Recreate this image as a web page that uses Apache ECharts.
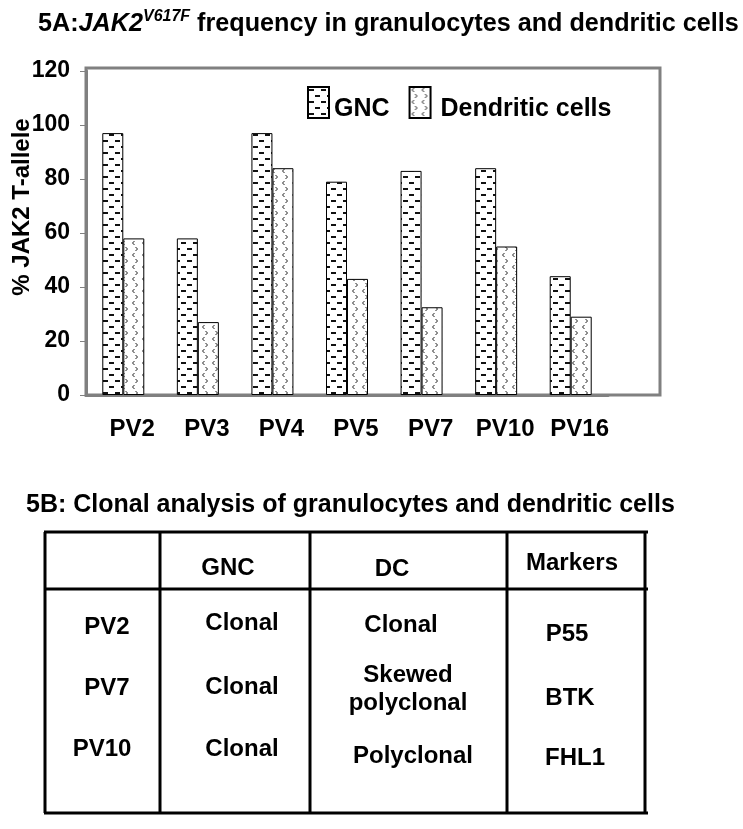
<!DOCTYPE html>
<html><head><meta charset="utf-8">
<script src="https://cdn.jsdelivr.net/npm/echarts@6/dist/echarts.min.js"></script>
<style>html,body{margin:0;padding:0;background:#fff}#c{width:743px;height:829px}</style>
</head><body><div id="c"></div>
<script>
// ---- data ----
const categories = ['PV2', 'PV3', 'PV4', 'PV5', 'PV7', 'PV10', 'PV16'];
const gncValues = [97, 58, 97, 79, 83, 84, 44];
const dcValues = [58, 27, 84, 43, 32.5, 55, 29];
const yTicks = [0, 20, 40, 60, 80, 100, 120];
const seriesNames = ['GNC', 'Dendritic cells'];
const yAxisName = '% JAK2 T-allele';
const tableTitle = '5B: Clonal analysis of granulocytes and dendritic cells';
const tableHeader = ['', 'GNC', 'DC', 'Markers'];
const tablePatients = ['PV2', 'PV7', 'PV10'];
const tableGNC = ['Clonal', 'Clonal', 'Clonal'];
const tableDC = ['Clonal', 'Skewed\npolyclonal', 'Polyclonal'];
const tableMarkers = ['P55', 'BTK', 'FHL1'];

// ---- styles ----
const FF = '"Liberation Sans", Arial, sans-serif';
const GRAY = '#808080';

function dashTile() {
  const c = document.createElement('canvas'); c.width = 12; c.height = 12;
  const g = c.getContext('2d');
  g.fillStyle = '#fff'; g.fillRect(0, 0, 12, 12);
  g.fillStyle = '#111';
  g.fillRect(1, 2, 5, 2);
  g.fillRect(7, 8, 5, 2);
  return c;
}
function chevronTile() {
  const c = document.createElement('canvas'); c.width = 10; c.height = 12;
  const g = c.getContext('2d');
  g.fillStyle = '#fff'; g.fillRect(0, 0, 10, 12);
  g.strokeStyle = '#222'; g.lineWidth = 1;
  g.beginPath(); g.moveTo(4.5, 1); g.lineTo(2.5, 3); g.lineTo(4.5, 5); g.stroke();
  g.beginPath(); g.moveTo(5.5, 7); g.lineTo(7.5, 9); g.lineTo(5.5, 11); g.stroke();
  return c;
}

// ---- table graphics ----
const colLines = [45, 160, 310, 507, 645];
const tTop = 532, tHead = 589, tBottom = 813;
const graphics = [];
[tTop, tHead, tBottom].forEach(y => graphics.push({
  type: 'line', shape: { x1: 44, y1: y, x2: 648, y2: y }, style: { stroke: '#000', lineWidth: 3 }
}));
colLines.forEach(x => graphics.push({
  type: 'line', shape: { x1: x, y1: tTop, x2: x, y2: tBottom }, style: { stroke: '#000', lineWidth: 3 }
}));
const headerX = [0, 228, 392, 572], headerY = [0, 568, 569, 563];
tableHeader.forEach((t, i) => { if (t) graphics.push(txt(t, headerX[i], headerY[i])); });
const columns = [tablePatients, tableGNC, tableDC, tableMarkers];
const colX = [[107, 107, 102], [242, 242, 242], [401, 408, 413], [567, 570, 575]];
const colY = [[627, 688, 749], [623, 687, 749], [625, 689, 756], [634, 698, 758]];
columns.forEach((col, ci) => col.forEach((t, ri) => graphics.push(txt(t, colX[ci][ri], colY[ci][ri]))));
function txt(t, x, y) {
  return { type: 'text', x: x, y: y, style: {
    text: t, fill: '#000', font: 'bold 24px ' + FF, align: 'center', verticalAlign: 'middle', lineHeight: 28 } };
}

const chart = echarts.init(document.getElementById('c'), null, { renderer: 'canvas' });
const option = {
  animation: false,
  backgroundColor: '#fff',
  title: [
    { left: 33, top: 4,
      text: '{a|5A:}{i|JAK2}{s|V617F}{a| frequency in granulocytes and dendritic cells}',
      textStyle: { rich: {
        a: { fontSize: 25.2, fontWeight: 'bold', color: '#000', fontFamily: FF, lineHeight: 30 },
        i: { fontSize: 25.2, fontWeight: 'bold', fontStyle: 'italic', color: '#000', fontFamily: FF, lineHeight: 30 },
        s: { fontSize: 16, fontWeight: 'bold', fontStyle: 'italic', color: '#000', fontFamily: FF, lineHeight: 18, verticalAlign: 'top' }
      } } },
    { left: 21, top: 488, text: tableTitle,
      textStyle: { fontSize: 25, fontWeight: 'bold', color: '#000', fontFamily: FF } }
  ],
  legend: {
    left: 302, top: 81, itemWidth: 21, itemHeight: 31, itemGap: 19, icon: 'rect',
    data: seriesNames,
    formatter: n => (n === seriesNames[1] ? '{d|' : '{t|') + n + '}',
    textStyle: { fontSize: 25, fontWeight: 'bold', color: '#000', fontFamily: FF,
      rich: {
        t: { fontSize: 25, fontWeight: 'bold', color: '#000', fontFamily: FF, padding: [14, 0, 0, 0] },
        d: { fontSize: 25, fontWeight: 'bold', color: '#000', fontFamily: FF, padding: [14, 0, 0, 5] }
      } }
  },
  grid: [
    { left: 86, top: 71, width: 522, height: 324, containLabel: false, outerBoundsMode: 'none' },
    { left: 86, top: 68, width: 574, height: 327, show: true, borderColor: GRAY, borderWidth: 3, backgroundColor: 'transparent', outerBoundsMode: 'none' }
  ],
  xAxis: [
    { type: 'category', data: categories, gridIndex: 0,
      axisLine: { lineStyle: { color: GRAY, width: 3 } },
      axisTick: { length: 6, lineStyle: { color: GRAY, width: 1 } },
      axisLabel: { interval: 0, fontSize: 24, fontWeight: 'bold', color: '#000', fontFamily: FF, margin: 22, padding: [0, 0, 0, 18] } },
    { type: 'value', gridIndex: 1, show: false }
  ],
  yAxis: [
    { type: 'value', gridIndex: 0, min: yTicks[0], max: yTicks[yTicks.length - 1], interval: yTicks[1] - yTicks[0],
      splitLine: { show: false },
      axisLine: { show: true, lineStyle: { color: GRAY, width: 3 } },
      axisTick: { show: true, length: 6, lineStyle: { color: GRAY, width: 1 } },
      axisLabel: { fontSize: 23, fontWeight: 'bold', color: '#000', fontFamily: FF, margin: 16 },
      name: yAxisName, nameLocation: 'middle', nameGap: 52, nameMoveOverlap: false,
      nameTextStyle: { fontSize: 24, fontWeight: 'bold', color: '#000', fontFamily: FF, padding: [0, 0, 0, 52] } },
    { type: 'value', gridIndex: 1, show: false }
  ],
  series: [
    { type: 'bar', name: seriesNames[0], data: gncValues, xAxisIndex: 0, yAxisIndex: 0,
      barWidth: 21, barGap: '0%',
      itemStyle: { color: { image: dashTile(), repeat: 'repeat' }, borderColor: '#000', borderWidth: 1 } },
    { type: 'bar', name: seriesNames[1], data: dcValues, xAxisIndex: 0, yAxisIndex: 0,
      barWidth: 21, barGap: '0%',
      itemStyle: { color: { image: chevronTile(), repeat: 'repeat' }, borderColor: '#000', borderWidth: 1 } }
  ],
  graphic: graphics
};
chart.setOption(option);
</script>
</body></html>
